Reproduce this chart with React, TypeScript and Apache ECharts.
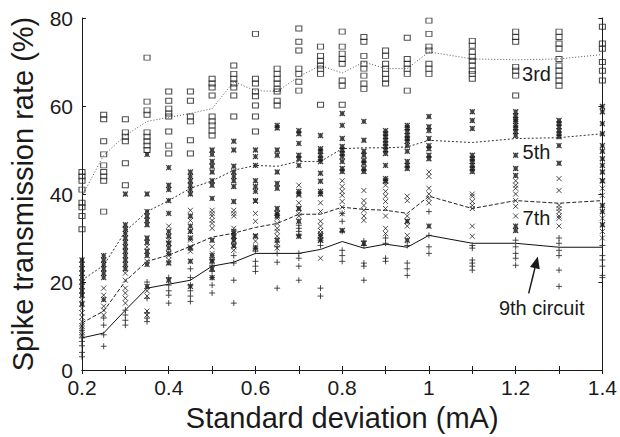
import React, { useEffect, useRef } from "react";
import * as echarts from "echarts";

const xValues = [0.2, 0.25, 0.3, 0.35, 0.4, 0.45, 0.5, 0.55, 0.6, 0.65, 0.7, 0.75, 0.8, 0.85, 0.9, 0.95, 1.0, 1.1, 1.2, 1.3, 1.4];

// mean lines
const mean3rd = [39.5, 48.8, 53.3, 56.5, 57.4, 58.3, 59.4, 65.5, 63.5, 63.3, 66.7, 69.2, 67.5, 70, 68.5, 68.5, 72.3, 70.7, 70.5, 70.7, 71.7];
const mean5th = [20.4, 23.8, 31.5, 36, 38.5, 41.3, 43, 45.4, 46.5, 46.3, 47.4, 47.4, 50.3, 50.5, 50.5, 50.7, 52.2, 51.7, 52.6, 52.8, 53.7];
const mean7th = [10.7, 13.4, 20.2, 24.7, 26.1, 28.1, 30.2, 31.1, 32.4, 33.3, 35.4, 35.4, 37, 36.5, 36.3, 35.6, 39.5, 36.7, 38.5, 37.9, 38.5];
const mean9th = [7.3, 8.4, 13.6, 18.6, 19.5, 20.4, 23.6, 24.5, 26.5, 26.5, 26.5, 27.4, 29.2, 27.7, 28.6, 27.9, 30.6, 28.8, 28.8, 27.9, 27.9];

// individual runs, one list per x value
const runs3rd = [
  [45, 44, 43, 41, 38, 37, 35, 32],
  [58, 57, 52, 49, 46.5, 45, 44, 43, 36],
  [57, 54, 53, 52, 47, 42],
  [71, 61, 59, 58, 54, 53, 52, 51, 50],
  [63.3, 61.2, 59.4, 58.3, 57.6, 54.2, 51, 49.2],
  [63.3, 61.2, 57.6, 56.5, 52.2, 49.2],
  [66.2, 65.1, 64.2, 62.4, 57.6, 56.5, 55.6, 54.4, 53.3],
  [69.2, 67.3, 66.2, 65.1, 64.2, 62.4, 57.6],
  [76.4, 66.2, 65.1, 63.3, 62.2, 60.1, 57.6, 54.2],
  [68.5, 67.3, 66.2, 65.1, 63.9, 63.3, 61.2, 60.1],
  [77.6, 74.6, 72.6, 68.5, 67.3, 65.5, 63.5],
  [73.5, 71.4, 70.3, 69.2, 68.5, 67.3, 60.3],
  [76.9, 73.5, 71.9, 70.7, 69.6, 65.8, 64.6, 60.3],
  [75.7, 74.6, 71.4, 69.6, 68.5, 66.9, 65.1, 63.9],
  [72.6, 71.4, 69.6, 68.5, 67.3, 66.2, 65.1],
  [75.5, 70.7, 69.6, 68.5, 67.3, 63.5],
  [79.4, 76.4, 73.5, 72.6, 69.6, 68.5, 67.3],
  [74.8, 73.7, 72.3, 71.2, 70.3, 69.2, 68, 67.3, 66.2],
  [76.9, 75.7, 74.6, 68.9, 68, 66.9, 62.4],
  [76.9, 75.7, 74.2, 73, 70.7, 69.2, 68, 66.9, 65.8, 64.6],
  [78, 74.2, 73, 70, 68, 65.8],
];
const runs5th = [
  [25, 24, 23, 22, 21, 20, 19, 18, 17, 15],
  [26, 25, 24, 23, 22, 21, 16],
  [40, 33, 32, 31, 30, 29, 28, 27, 26, 25, 24, 23],
  [49, 40, 36, 35, 34, 33, 30, 29, 27, 26, 24, 19],
  [46, 42, 41, 38.5, 35.6, 31.5, 30.4, 28.8, 27.7, 26.5, 24.3, 20.4],
  [45, 44, 43, 42, 41, 40, 35, 32.7, 31.5, 30, 27.7, 24.7, 19],
  [50, 49, 47.4, 46.3, 45, 43, 42, 39, 29.5, 26, 24.7, 23, 21],
  [52, 50, 46.3, 45, 44, 43, 41.7, 38.3, 31.5, 30.4, 29.5, 28.3],
  [50, 48.5, 46.5, 43, 41.7, 40.6, 38.5, 30.4, 27.7],
  [55.6, 55, 50, 48.8, 45, 42.4, 41.3, 36.7, 35.6, 35, 29.5],
  [54.4, 53.7, 51.5, 48.8, 48, 46.5, 40.6, 40, 36.7, 33.8, 30.4],
  [53.3, 50.3, 49.7, 48.8, 48, 47.4, 44.7, 42.9, 40.6, 40, 30.6, 29.5],
  [58.3, 55.6, 52.6, 50.8, 50, 49.2, 48.5, 47.4, 45.8, 45.1, 31.7],
  [56.5, 52.2, 49.7, 48.8, 47.6, 47, 45.8, 45.1, 28.8],
  [54.4, 53.7, 53, 52.2, 51.5, 50.8, 50, 49.2, 46.5, 43.5, 42.9],
  [55.6, 55, 54.2, 53.3, 52.6, 52, 51, 49.7, 47.4, 46.5, 45.8, 33.8, 29.5],
  [57.6, 55.3, 54.4, 52.6, 51, 50.3, 48.8, 48, 32.7],
  [58.7, 56.7, 54.9, 48.8, 48, 47.4, 46.5, 45.8, 45.1],
  [58.7, 57.8, 57, 56.5, 55.6, 55, 54.2, 53.3, 48.8, 45.8, 44.2, 32.7, 31.7],
  [56.7, 56, 55.3, 54.4, 53.7, 53, 51, 47],
  [59.9, 58.7, 56, 53.7, 51, 49.7, 48, 46.5, 45, 43, 37.4, 36, 33],
];
const runs7th = [
  [16, 14, 13, 12, 11, 10, 9, 8],
  [18.6, 17, 14.5, 13.6, 12.5],
  [22, 20.4, 18.6, 17.5, 16.3, 15.2],
  [28, 24.7, 18, 16.8, 13.4, 12.5],
  [32.7, 29.5, 28.8, 26, 25],
  [36.3, 34, 31.5, 29.5, 28, 27],
  [36.3, 35.6, 35, 34, 33.3, 32.2, 28, 26.5, 25],
  [36.3, 35.6, 35, 32.2, 31, 30.4, 29.3, 28, 27.2],
  [38.3, 35.6, 33.8, 30.6, 29.3, 28],
  [35.6, 34.5, 33.3, 32.2, 31.5, 30.4, 28.8, 27.7],
  [42, 39.7, 38, 36.7, 35.6, 35],
  [38, 36, 33.8, 32.7, 31.7, 31, 30.4, 29.5, 25.4],
  [43, 41.7, 40.6, 39.7, 38.3, 37, 35.5],
  [40.8, 38.5, 37.4, 36.3, 35, 34],
  [43, 42, 40.6, 39.5, 38.3, 36.7, 35, 32.2, 31],
  [39.5, 38.5, 35, 33.8, 32.7, 30.6],
  [45, 44, 41.3, 40, 39, 38],
  [40, 39.5, 38.3, 37.4, 36.7, 32.7, 30.4],
  [43, 42, 41.3, 40, 38.5, 37.2, 35],
  [43.5, 40.8, 37.4, 36.7, 36, 35, 34.5, 32.7],
  [43, 41.3, 39.7, 34.5, 31.5, 30],
];
const runs9th = [
  [10, 9, 8, 7.3, 6.5, 5.5, 4, 3],
  [11.8, 10.2, 8, 5.4],
  [13.6, 12.5, 11.3, 10.2],
  [20, 16.3, 13, 11.8, 11],
  [21, 19.3, 18, 17, 15.2],
  [23, 21, 19.3, 18, 16.8, 15.6],
  [25, 23.8, 22.4, 21, 19.3, 17.5],
  [26, 24.3, 20.4, 15.2],
  [27.7, 27, 24.7, 23.6, 22.4],
  [28, 26.5, 24.5, 18.6],
  [32.9, 32.2, 31.5, 30.6, 26.5, 25.4, 23.6, 20.4],
  [29.5, 28.3, 18.6, 16.8],
  [35.6, 33.8, 31.5, 27.2, 26, 24.7],
  [29.3, 28.3, 24.3, 23.6, 20.4],
  [30, 28.8, 25.4, 24.7],
  [28.3, 24.3, 23, 21.5],
  [36, 30.6, 28, 26.5],
  [28.3, 27.7, 25, 24.3, 23.6, 22.7],
  [29.5, 28, 26.5, 25.4, 23.8],
  [30, 28.8, 27.2, 26, 22.7, 19],
  [28.3, 26, 25, 23.6, 21.5, 21],
];

const labels = [
  { text: "3rd", x: 1.248, y: 67.3 },
  { text: "5th", x: 1.248, y: 49.5 },
  { text: "7th", x: 1.248, y: 34.6 },
  { text: "9th circuit", x: 1.26, y: 14.2 },
];
const arrowFrom = [1.23, 17.4];
const arrowTo = [1.251, 25.8];

const FONT = "'Liberation Sans', Arial, Helvetica, sans-serif";
const INK = "#1a1a1a";

function flatten(runs: number[][]) {
  const out: number[][] = [];
  runs.forEach((col, i) => col.forEach((v) => out.push([xValues[i], v])));
  return out;
}
function pairs(vals: number[]) {
  return vals.map((v, i) => [xValues[i], v]);
}

export default function App() {
  const ref = useRef<HTMLDivElement>(null);
  useEffect(() => {
    if (!ref.current) return;
    const chart = echarts.init(ref.current, undefined, { renderer: "svg" });
    const axisCommon = {
      type: "value" as const,
      axisLine: { show: true, lineStyle: { color: INK, width: 1 } },
      splitLine: { show: false },
    };
    const scatterBase = (name: string, runs: number[][], symbol: string, size: any, bw: number, col: string) => ({
      name,
      type: "scatter",
      data: flatten(runs),
      symbol,
      symbolSize: size,
      itemStyle: { color: "rgba(0,0,0,0)", borderColor: col, borderWidth: bw },
      z: 3,
    });
    const lineBase = (name: string, vals: number[], type: any, color: string) => ({
      name,
      type: "line",
      data: pairs(vals),
      symbol: "none",
      lineStyle: { color, width: 1, type },
      z: 2,
    });
    chart.setOption({
      animation: false,
      backgroundColor: "#ffffff",
      grid: { left: 81, right: 17, top: 18, bottom: 65, show: false },
      xAxis: [
        {
          ...axisCommon,
          position: "bottom",
          min: 0.2,
          max: 1.4,
          interval: 0.2,
          axisTick: { show: true, inside: true, length: 4, lineStyle: { color: INK } },
          minorTick: { show: true, splitNumber: 2, length: 4, lineStyle: { color: INK } },
          axisLabel: {
            fontSize: 21,
            lineHeight: 16,
            color: INK,
            fontFamily: FONT,
            margin: 9,
            formatter: (v: number) => String(parseFloat(v.toFixed(1))),
          },
          name: "Standard deviation (mA)",
          nameLocation: "middle",
          nameGap: 33,
          nameTextStyle: { fontSize: 29, color: INK, fontFamily: FONT },
        },
        {
          ...axisCommon,
          position: "top",
          min: 0.2,
          max: 1.4,
          interval: 0.2,
          axisTick: { show: true, inside: true, length: 4, lineStyle: { color: INK } },
          minorTick: { show: true, splitNumber: 2, length: 4, lineStyle: { color: INK } },
          axisLabel: { show: false },
        },
      ],
      yAxis: [
        {
          ...axisCommon,
          position: "left",
          min: 0,
          max: 80,
          interval: 20,
          axisTick: { show: true, inside: true, length: 4, lineStyle: { color: INK } },
          axisLabel: { fontSize: 21, lineHeight: 16, color: INK, fontFamily: FONT, margin: 9 },
          name: "Spike transmission rate (%)",
          nameLocation: "middle",
          nameGap: 45,
          nameTextStyle: { fontSize: 29, color: INK, fontFamily: FONT },
        },
        {
          ...axisCommon,
          position: "right",
          min: 0,
          max: 80,
          interval: 20,
          axisTick: { show: true, inside: true, length: 4, lineStyle: { color: INK } },
          axisLabel: { show: false },
        },
      ],
      series: [
        lineBase("3rd mean", mean3rd, [1, 2], "#555"),
        lineBase("5th mean", mean5th, [2, 2], "#333"),
        lineBase("7th mean", mean7th, [4, 2], "#222"),
        lineBase("9th mean", mean9th, "solid", "#111"),
        scatterBase("3rd", runs3rd, "rect", [6, 5], 1, "#222"),
        scatterBase("5th", runs5th, "path://M0,0L10,10M10,0L0,10M5,0L5,10M1,5L9,5", 5, 1.3, "#111"),
        scatterBase("7th", runs7th, "path://M0,0L10,10M10,0L0,10", 5, 1, "#222"),
        scatterBase("9th", runs9th, "path://M5,0L5,10M0,5L10,5", 6, 1, "#222"),
      ],
    });

    const px = (p: number[]) => chart.convertToPixel({ gridIndex: 0 }, p) as number[];
    const graphics: any[] = labels.map((l) => {
      const p = px([l.x, l.y]);
      return {
        type: "text",
        x: p[0],
        y: p[1],
        style: {
          text: l.text,
          fontSize: 20,
          fontFamily: FONT,
          fill: INK,
          textAlign: "center",
          textVerticalAlign: "middle",
          verticalAlign: "middle",
          align: "center",
        },
        z: 10,
      };
    });
    const a = px(arrowFrom);
    const b = px(arrowTo);
    const dx = b[0] - a[0];
    const dy = b[1] - a[1];
    const len = Math.hypot(dx, dy);
    const ux = dx / len;
    const uy = dy / len;
    const hl = 12;
    const hw = 5;
    const base = [b[0] - ux * hl, b[1] - uy * hl];
    graphics.push({
      type: "line",
      shape: { x1: a[0], y1: a[1], x2: base[0], y2: base[1] },
      style: { stroke: INK, lineWidth: 1.5 },
      z: 10,
    });
    graphics.push({
      type: "polygon",
      shape: {
        points: [
          [b[0], b[1]],
          [base[0] - uy * hw, base[1] + ux * hw],
          [base[0] + uy * hw, base[1] - ux * hw],
        ],
      },
      style: { fill: INK },
      z: 10,
    });
    chart.setOption({ graphic: graphics });
    return () => chart.dispose();
  }, []);
  return (
    <div
      ref={ref}
      style={{ position: "fixed", left: 0, top: 0, width: 620, height: 437, background: "#fff" }}
    />
  );
}
